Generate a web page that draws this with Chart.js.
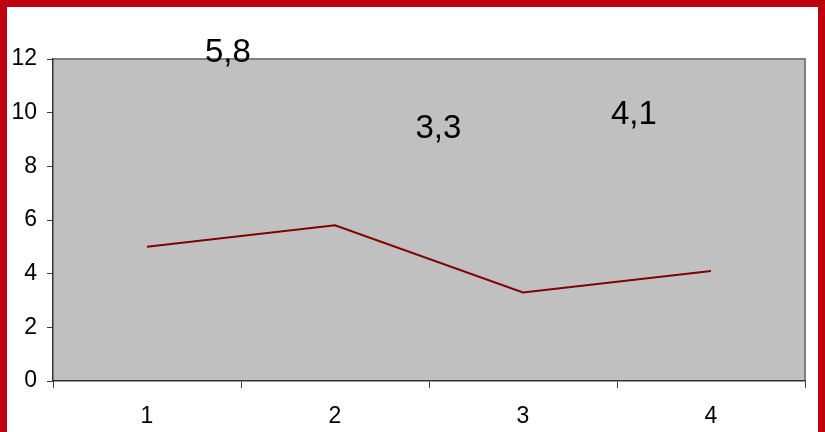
<!DOCTYPE html>
<html>
<head>
<meta charset="utf-8">
<script src="https://cdn.jsdelivr.net/npm/chart.js@4/dist/chart.umd.min.js"></script>
<style>
  html, body { margin: 0; padding: 0; background: #ffffff; }
  #frame {
    width: 811px;
    height: 425px;
    border-top: 7px solid #BE0010;
    border-left: 7px solid #BE0010;
    border-right: 7px solid #BE0010;
    background: #ffffff;
  }
  #chart { display: block; }
</style>
</head>
<body>
<div id="frame"><canvas id="chart" width="811" height="425"></canvas></div>
<script>
// Categories and series values
const categories = ['1', '2', '3', '4'];
const seriesValues = [5.0, 5.8, 3.3, 4.1];
const yTicks = [0, 2, 4, 6, 8, 10, 12];

// Value labels sit up and to the left of their points (index offset, value offset)
const labelPlacement = {
  1: { dx: -0.57, dy: 6.42 },
  2: { dx: -0.45, dy: 6.09 },
  3: { dx: -0.41, dy: 5.81 }
};

const plotBackground = {
  id: 'plotBackground',
  beforeDraw(chart) {
    const { ctx, chartArea: a } = chart;
    ctx.save();
    ctx.fillStyle = '#C0C0C0';
    ctx.fillRect(a.left, a.top, a.right - a.left, a.bottom - a.top);
    ctx.strokeStyle = '#808080';
    ctx.lineWidth = 2;
    ctx.beginPath();
    ctx.moveTo(a.left, a.top);
    ctx.lineTo(a.right, a.top);
    ctx.lineTo(a.right, a.bottom);
    ctx.stroke();
    ctx.restore();
  }
};

const valueLabels = {
  id: 'valueLabels',
  afterDatasetsDraw(chart) {
    const { ctx } = chart;
    const xs = chart.scales.x, ys = chart.scales.y;
    const data = chart.data.datasets[0].data;
    ctx.save();
    ctx.font = '33px "Liberation Sans", Arial, sans-serif';
    ctx.fillStyle = '#000000';
    ctx.textAlign = 'center';
    ctx.textBaseline = 'middle';
    Object.keys(labelPlacement).forEach(k => {
      const i = Number(k);
      const p = labelPlacement[k];
      const x = xs.getPixelForValue(i + p.dx);
      const y = ys.getPixelForValue(data[i] + p.dy);
      ctx.fillText(String(data[i]).replace('.', ','), x, y);
    });
    ctx.restore();
  }
};

new Chart(document.getElementById('chart'), {
  type: 'line',
  data: {
    labels: categories,
    datasets: [{
      data: seriesValues,
      borderColor: '#800000',
      borderWidth: 2,
      pointRadius: 0,
      tension: 0,
      fill: false
    }]
  },
  options: {
    responsive: false,
    animation: false,
    layout: { padding: { top: 52, right: 13, left: 0, bottom: 0 } },
    plugins: {
      legend: { display: false },
      tooltip: { enabled: false }
    },
    scales: {
      x: {
        offset: true,
        grid: {
          offset: true,
          drawOnChartArea: false,
          tickLength: 7,
          tickColor: '#404040'
        },
        border: { color: '#333333', width: 1.5 },
        ticks: {
          color: '#000000',
          padding: 15,
          maxRotation: 0,
          font: { family: '"Liberation Sans", Arial, sans-serif', size: 23 }
        },
        afterFit(scale) { scale.height = 51; }
      },
      y: {
        min: 0,
        max: 12,
        afterBuildTicks(scale) { scale.ticks = yTicks.map(v => ({ value: v })); },
        grid: {
          drawOnChartArea: false,
          tickLength: 6,
          tickColor: '#404040'
        },
        border: { color: '#333333', width: 1.5 },
        ticks: {
          color: '#000000',
          padding: 10,
          font: { family: '"Liberation Sans", Arial, sans-serif', size: 23 }
        },
        afterFit(scale) { scale.width = 46; }
      }
    }
  },
  plugins: [plotBackground, valueLabels]
});
</script>
</body>
</html>
